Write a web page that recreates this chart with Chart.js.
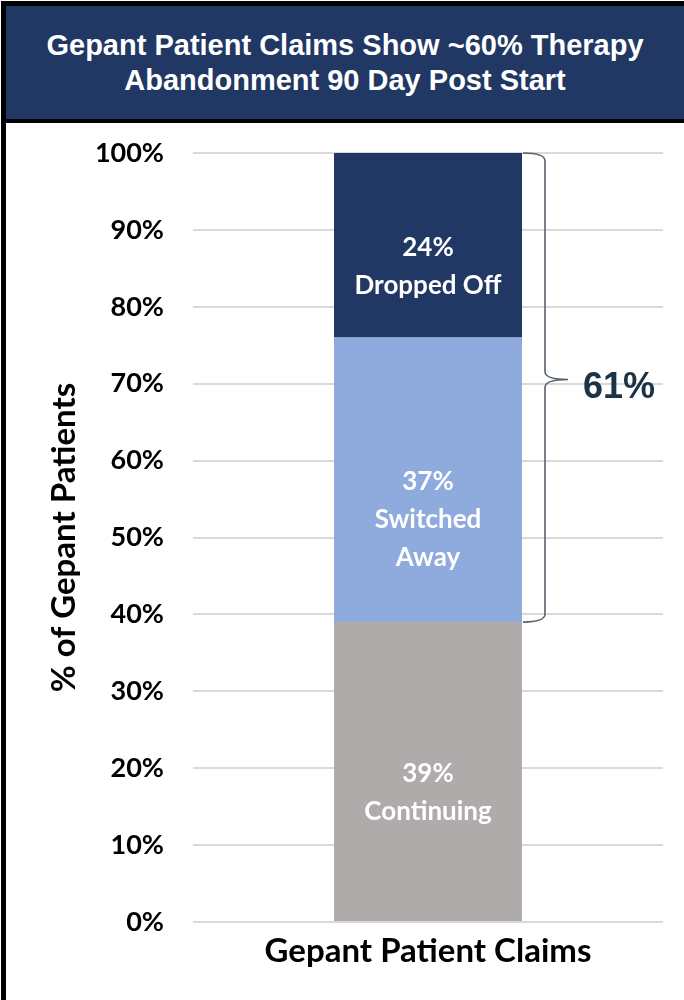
<!DOCTYPE html>
<html>
<head>
<meta charset="utf-8">
<script src="https://cdn.jsdelivr.net/npm/chart.js@4.4.0/dist/chart.umd.min.js"></script>
<style>
  body { margin: 0; background: #fff; }
  #frame {
    position: absolute; left: 1px; top: 1px; width: 683px; height: 999px;
    box-sizing: border-box; border-left: 5px solid #000; border-top: 5px solid #000;
    background: #fff;
  }
  #title {
    height: 113px; background: #213864; border-bottom: 4px solid #000;
    color: #fff; font: bold 29px "Liberation Sans", Arial, sans-serif; line-height: 35px;
    display: flex; align-items: center; justify-content: center; text-align: center;
  }
  #wrap { position: relative; width: 678px; height: 876px; }
</style>
</head>
<body>
<div id="frame">
  <div id="title">Gepant Patient Claims Show ~60% Therapy<br>Abandonment 90 Day Post Start</div>
  <div id="wrap"><canvas id="chart"></canvas></div>
</div>
<script>
// data
var categories = ["Gepant Patient Claims"];
var segmentNames = ["Continuing", "Switched Away", "Dropped Off"];
var segmentValues = [39, 37, 24];
var segmentLines = [["Continuing"], ["Switched", "Away"], ["Dropped Off"]];
var segmentColors = ["#afabab", "#8faadc", "#213864"];
var bracedSegments = [1, 2];
var yTickMax = 100;
var yTickStep = 10;

var labelFont = "Lato, 'Open Sans', sans-serif";

// white labels inside each stacked segment
var segmentLabelPlugin = {
    id: "segmentLabels",
    afterDatasetsDraw: function (chart) {
        var ctx = chart.ctx;
        ctx.save();
        ctx.fillStyle = "#ffffff";
        ctx.font = "bold 26px " + labelFont;
        ctx.textAlign = "center";
        ctx.textBaseline = "middle";
        chart.data.datasets.forEach(function (ds, i) {
            var bar = chart.getDatasetMeta(i).data[0];
            var cy = (bar.y + bar.base) / 2 + 2;
            var lines = [ds.data[0] + "%"].concat(segmentLines[i]);
            for (var k = 0; k < lines.length; k++) {
                ctx.fillText(lines[k], bar.x, cy + k * 38);
            }
        });
        ctx.restore();
    }
};

// curly brace over switched + dropped
var bracePlugin = {
    id: "brace",
    afterDatasetsDraw: function (chart) {
        var ctx = chart.ctx;
        var yScale = chart.scales.y;
        var bar = chart.getDatasetMeta(0).data[0];
        var right = bar.x + bar.width / 2;
        var lowVal = 0, total = 0;
        for (var i = 0; i < bracedSegments[0]; i++) lowVal += segmentValues[i];
        bracedSegments.forEach(function (i) { total += segmentValues[i]; });
        var top = yScale.getPixelForValue(lowVal + total);
        var bottom = yScale.getPixelForValue(lowVal);
        var mid = (top + bottom) / 2 - 8;
        var x0 = right + 1, xb = right + 23, xt = right + 46, r = 8;

        ctx.save();
        ctx.strokeStyle = "#56626e";
        ctx.lineWidth = 1.6;
        ctx.beginPath();
        ctx.moveTo(x0, top);
        ctx.quadraticCurveTo(xb, top, xb, top + r);
        ctx.lineTo(xb, mid - r);
        ctx.quadraticCurveTo(xb, mid, xt, mid);
        ctx.quadraticCurveTo(xb, mid, xb, mid + r);
        ctx.lineTo(xb, bottom - r);
        ctx.quadraticCurveTo(xb, bottom, x0, bottom);
        ctx.stroke();

        ctx.fillStyle = "#1c3245";
        ctx.font = "bold 36px 'Liberation Sans', Arial, sans-serif";
        ctx.textAlign = "left";
        ctx.textBaseline = "middle";
        ctx.fillText(total + "%", right + 61, mid + 9);
        ctx.restore();
    }
};

var datasets = [];
for (var i = 0; i < segmentValues.length; i++) {
    datasets.push({
        label: segmentNames[i],
        data: [segmentValues[i]],
        backgroundColor: segmentColors[i],
        borderWidth: 0,
        barPercentage: 0.4,
        categoryPercentage: 1.0
    });
}

var chart = new Chart(document.getElementById("chart"), {
    type: "bar",
    data: { labels: categories, datasets: datasets },
    options: {
        responsive: true,
        maintainAspectRatio: false,
        animation: false,
        layout: { padding: { top: 30, right: 21, left: 0, bottom: 0 } },
        plugins: {
            legend: { display: false },
            tooltip: { enabled: false }
        },
        scales: {
            x: {
                stacked: true,
                grid: { display: false, drawTicks: false },
                border: { display: false },
                ticks: {
                    color: "#000",
                    padding: 10,
                    font: { family: labelFont, size: 33, weight: "bold" }
                },
                afterFit: function (scale) { scale.height = 77; }
            },
            y: {
                stacked: true,
                min: 0,
                max: yTickMax,
                grid: { color: "#d9d9d9", lineWidth: 2, drawTicks: false },
                border: { display: false },
                ticks: {
                    stepSize: yTickStep,
                    color: "#000",
                    padding: 29,
                    font: { family: labelFont, size: 27, weight: "bold" },
                    callback: function (v) { return v + "%"; }
                },
                title: {
                    display: true,
                    text: "% of Gepant Patients",
                    color: "#000",
                    padding: { top: 39, bottom: 0 },
                    font: { family: labelFont, size: 33, weight: "bold" }
                },
                afterFit: function (scale) {
                    scale.width = 187;
                    scale.paddingTop = 0;
                    scale.paddingBottom = 0;
                }
            }
        }
    },
    plugins: [segmentLabelPlugin, bracePlugin]
});
</script>
</body>
</html>
